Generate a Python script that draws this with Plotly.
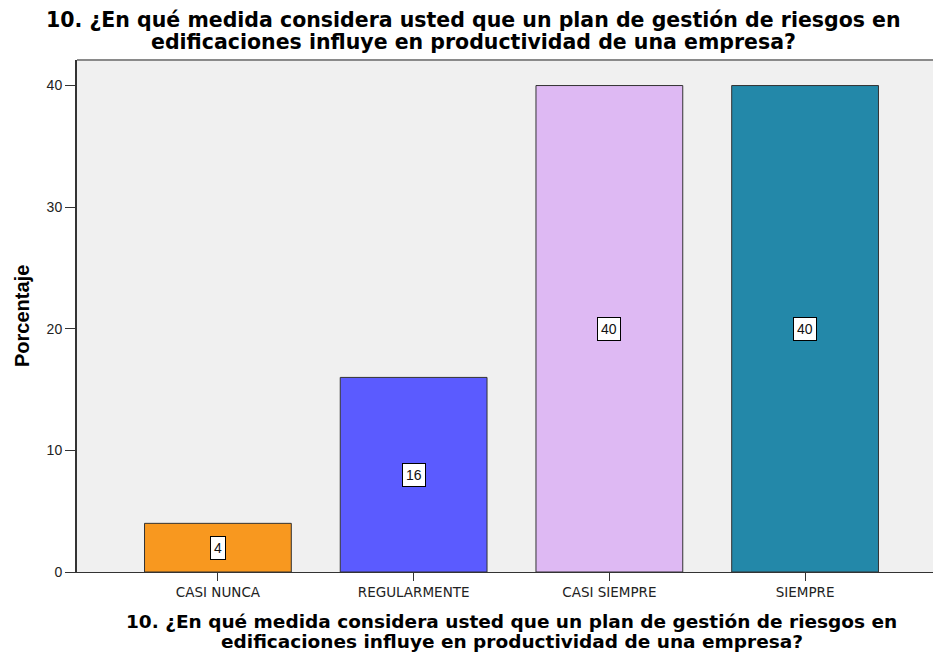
import plotly.graph_objects as go

# Survey responses (percentage of respondents per answer)
categories = ["CASI NUNCA", "REGULARMENTE", "CASI SIEMPRE", "SIEMPRE"]
percentages = [4, 16, 40, 40]
bar_colors = ["#F8981F", "#5B5BFF", "#DEB9F3", "#2388A9"]
y_ticks = [0, 10, 20, 30, 40]

question_lines = [
    "10. ¿En qué medida considera usted que un plan de gestión de riesgos en",
    "edificaciones influye en productividad de una empresa?",
]

W, H = 946, 653
L, R, T, B = 77, 0, 60, 81
plot_w, plot_h = W - L - R, H - T - B


def px_x(px):
    return (px - L) / plot_w


def px_y(py):
    return (H - B - py) / plot_h


fig = go.Figure()
fig.add_trace(go.Bar(
    x=list(range(len(categories))),
    y=percentages,
    width=0.75,
    marker=dict(color=bar_colors, line=dict(color="#333333", width=1)),
    hoverinfo="skip",
))

# Value boxes in the middle of each bar
for i, v in enumerate(percentages):
    fig.add_annotation(
        x=i, y=v / 2, text=str(v), showarrow=False,
        font=dict(family="Liberation Sans, Arial, sans-serif", size=14, color="#111111"),
        bgcolor="#FFFFFF", bordercolor="#000000", borderwidth=1, borderpad=3,
    )

title_font = "DejaVu Sans, Liberation Sans, sans-serif"

# Chart title (two lines, tight spacing)
for text, cy in zip(question_lines, [20, 42]):
    fig.add_annotation(
        xref="paper", yref="paper", x=px_x(W / 2), y=px_y(cy),
        xanchor="center", yanchor="middle", showarrow=False,
        text="<b>" + text + "</b>",
        font=dict(family=title_font, size=20.5, color="#000000"),
    )

# X axis title (two lines, centred on the plot area)
for text, cy in zip(question_lines, [621, 641]):
    fig.add_annotation(
        xref="paper", yref="paper", x=0.5, y=px_y(cy),
        xanchor="center", yanchor="middle", showarrow=False,
        text="<b>" + text + "</b>",
        font=dict(family=title_font, size=18.5, color="#000000"),
    )

# Y axis title
fig.add_annotation(
    xref="paper", yref="paper", x=px_x(22), y=0.5,
    xanchor="center", yanchor="middle", showarrow=False, textangle=-90,
    text="<b>Porcentaje</b>",
    font=dict(family="Liberation Sans, Arial, sans-serif", size=20, color="#000000"),
)

# Frame line along the top of the plot area
fig.add_shape(type="line", xref="paper", yref="paper", x0=0, x1=1, y0=1, y1=1,
              line=dict(color="#8A8A8A", width=2))

fig.update_layout(
    width=W, height=H,
    margin=dict(l=L, r=R, t=T, b=B),
    paper_bgcolor="#FFFFFF",
    plot_bgcolor="#F0F0F0",
    showlegend=False,
    font=dict(family="Liberation Sans, Arial, sans-serif", color="#000000"),
    xaxis=dict(
        range=[-0.72, 3.72],
        tickmode="array", tickvals=list(range(len(categories))), ticktext=categories,
        ticks="outside", ticklen=8, tickwidth=1, tickcolor="#333333",
        showline=True, linecolor="#333333", linewidth=1,
        showgrid=False, zeroline=False,
        tickfont=dict(family="DejaVu Sans, sans-serif", size=13.5, color="#222222"),
    ),
    yaxis=dict(
        range=[0, 42.1],
        tickmode="array", tickvals=y_ticks,
        ticks="outside", ticklen=10, tickwidth=1, tickcolor="#333333",
        showline=True, linecolor="#333333", linewidth=2,
        showgrid=False, zeroline=False,
        tickfont=dict(size=14, color="#222222"),
    ),
)

fig.write_html("out.html")
